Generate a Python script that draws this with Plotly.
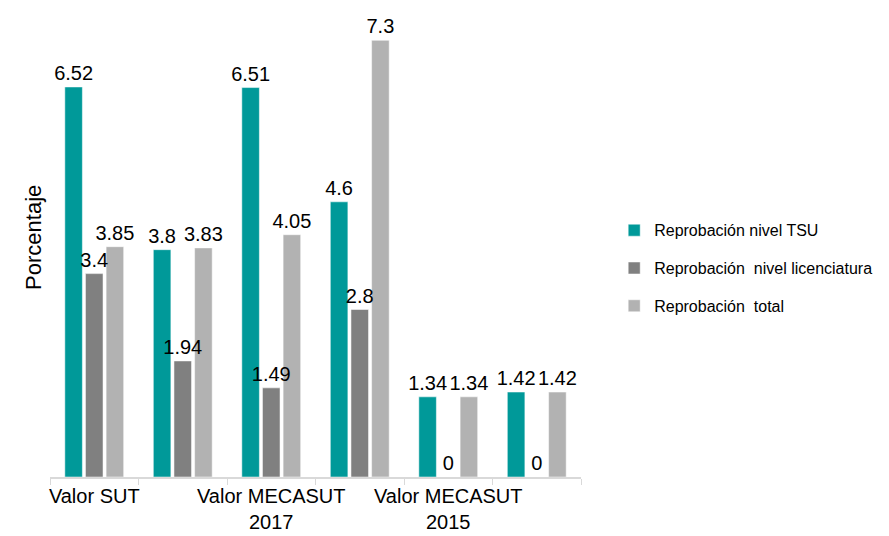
import plotly.graph_objects as go

categories = ["Valor SUT", "cat2", "Valor MECASUT<br>2017", "cat4", "Valor MECASUT<br>2015", "cat6"]
tick_labels = ["Valor SUT", "", "Valor MECASUT<br>2017", "", "Valor MECASUT<br>2015", ""]

tsu = [6.52, 3.8, 6.51, 4.6, 1.34, 1.42]
licenciatura = [3.4, 1.94, 1.49, 2.8, 0, 0]
total = [3.85, 3.83, 4.05, 7.3, 1.34, 1.42]

series_names = ["Reprobación nivel TSU", "Reprobación  nivel licenciatura", "Reprobación  total"]
colors = ["#009999", "#808080", "#B2B2B2"]
series_values = [tsu, licenciatura, total]

FONT = "Liberation Sans, Arial, sans-serif"

fig = go.Figure()
# bars
for i, (name, vals, col) in enumerate(zip(series_names, series_values, colors)):
    fig.add_trace(go.Bar(
        x=categories, y=vals, name=name,
        marker=dict(color=col, line=dict(color="white", width=0.5)),
        offsetgroup=str(i), legendgroup=f"g{i}",
        hoverinfo="skip",
    ))
# data labels drawn on top of all bars
for i, vals in enumerate(series_values):
    fig.add_trace(go.Bar(
        x=categories, y=vals, showlegend=False,
        marker=dict(color="rgba(0,0,0,0)", line=dict(width=16, color="rgba(0,0,0,0)")),
        text=[f"{v:g}" for v in vals], textposition="outside",
        textfont=dict(family=FONT, size=20, color="#000000"),
        constraintext="none", cliponaxis=False,
        offsetgroup=str(i), legendgroup=f"g{i}",
    ))

fig.update_layout(
    width=881, height=528,
    margin=dict(l=42, r=308, t=0, b=59, autoexpand=False),
    paper_bgcolor="white", plot_bgcolor="white",
    barmode="group", bargap=0.30, bargroupgap=0.15,
    font=dict(family=FONT, size=20, color="#000000"),
    showlegend=True,
    legend=dict(x=1.0625, y=0.445, xanchor="left", yanchor="middle",
                font=dict(family=FONT, size=16, color="#000000"),
                tracegroupgap=14, bgcolor="rgba(0,0,0,0)",
                itemwidth=30),
    annotations=[dict(text="Porcentaje", xref="paper", yref="paper",
                      x=-0.030, y=0.51, xanchor="center", yanchor="middle",
                      textangle=-90, showarrow=False,
                      font=dict(family=FONT, size=22, color="#000000"))],
)
fig.update_xaxes(
    type="category", tickvals=categories, ticktext=tick_labels,
    tickson="boundaries", ticks="outside", ticklen=6, tickcolor="#D9D9D9",
    tickangle=0, automargin=False,
    showline=True, linecolor="#D9D9D9", linewidth=1.5,
    showgrid=False, tickfont=dict(family=FONT, size=20, color="#000000"),
)
fig.update_yaxes(range=[0, 7.84], visible=False, showgrid=False, zeroline=False)

fig.write_html("out.html")
